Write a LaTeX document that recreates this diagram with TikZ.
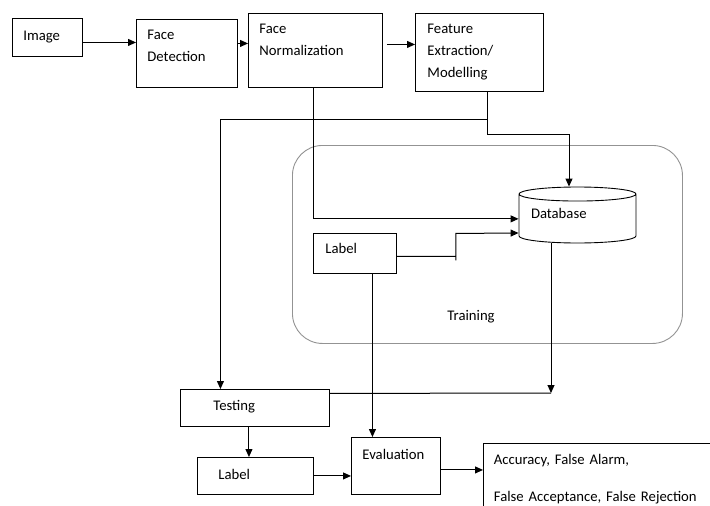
\documentclass[tikz,border=0pt]{standalone}
\usepackage{fontspec}
\setmainfont{Carlito}
\usepackage{tikz}
\usetikzlibrary{arrows.meta,%
		calc,%
		positioning,%
		shapes.geometric}

\tikzset{
  box/.style={draw, line width=0.9pt, anchor=north west, align=left, inner ysep=0pt},
  dbase/.style={draw, line width=0.9pt, cylinder, shape border rotate=90, aspect=0.12,
    minimum width=117pt, minimum height=56pt, inner xsep=12pt, text width=93pt, align=left,
    text height=10pt, text depth=14pt},
  conn/.style={draw, line width=1pt, -{Triangle[length=8pt,width=7pt]}},
  plain/.style={draw, line width=1pt}
}

\begin{document}
\begin{tikzpicture}[x=1pt,y=-1pt,font=\fontsize{14.7}{21.7}\selectfont]
  \useasboundingbox (0,0) rectangle (710,506);
  % training area
  \node[box, draw=gray!85, rounded corners=30pt, text width=80pt, inner xsep=155pt,
        text height=175pt, text depth=23pt] (train) at (292,145) {Training};
  % top row
  \node[box, text width=48pt, inner xsep=11pt, text height=22pt, text depth=16pt] (img) at (12,18) {Image};
  \node[box, text width=79pt, inner xsep=11pt, text height=20.5pt, text depth=47.5pt] (fd) at (136,19) {Face\\Detection};
  \node[box, text width=112pt, inner xsep=11pt, text height=20.3pt, text depth=53.7pt] (fn) at (248,13) {Face\\Normalization};
  \node[box, text width=104pt, inner xsep=12pt, text height=20.3pt, text depth=57.7pt] (fe) at (415,13) {Feature\\Extraction/\\Modelling};
  % inside training
  \node[dbase, anchor=shape center] (db) at (577.5,215) {Database};
  \node[box, text width=59pt, inner xsep=12pt, text height=20pt, text depth=20pt] (lbl) at (313,233) {Label};
  % bottom part
  \node[box, text width=83pt, inner xsep=33pt, text height=21pt, text depth=16pt] (test) at (180,389) {Testing};
  \node[box, text width=74pt, inner xsep=21pt, text height=22pt, text depth=15pt] (lbltest) at (197,457) {Label};
  \node[box, text width=67pt, inner xsep=11pt, text height=22pt, text depth=35pt] (eval) at (351,437) {Evaluation};
  \node[box, text width=220pt, inner xsep=10.5pt, text height=21pt, text depth=62pt] (res) at (483,443)
    {Accuracy, False Alarm,\\[15.3pt]False Acceptance, False Rejection};
  \coordinate (join) at (551,393);

  \draw[conn] ([yshift=-5pt]img.east) -- ([yshift=-5pt]img.east -| fd.west); %image-detection
  \draw[conn] ([yshift=10pt]fd.east) -- ([yshift=10pt]fd.east -| fn.west);
  \draw[conn] ([shift={(4pt,6pt)}]fn.east) -- ([yshift=6pt]fn.east -| fe.west);
  \draw[conn] ([xshift=-2pt]fn.south) |- ([yshift=2pt]db.west); %normalization-database
  \draw[conn] ([xshift=8pt]fe.south) -- ++(0,43) -| ([xshift=-8.5pt]db.north);
  \draw[conn] ([xshift=8pt]fe.south) ++(0,28) -| ([xshift=-34.5pt]test.north); %to testing
  \draw[conn] ([yshift=-3pt]lbl.east) -- ++(59,0) -- ++(0,4) -- ++(0,-27) -- (db.west |- lbl.north);
  \draw[conn] ([xshift=17.5pt]lbl.south) -- ([xshift=17.5pt]lbl.south |- eval.north);
  \draw[conn] ([xshift=-26.5pt]db.south) -- (join);
  \draw[plain] ([yshift=14.5pt]test.east) -- (join);
  \draw[conn] ([xshift=-6pt]test.south) -- ([xshift=-6pt]test.south |- lbltest.north);
  \draw[conn] (lbltest.east) -- (lbltest.east -| eval.west);
  \draw[conn] ([yshift=-4pt]eval.east) -- ([yshift=-4pt]eval.east -| res.west); %results
\end{tikzpicture}
\end{document}
